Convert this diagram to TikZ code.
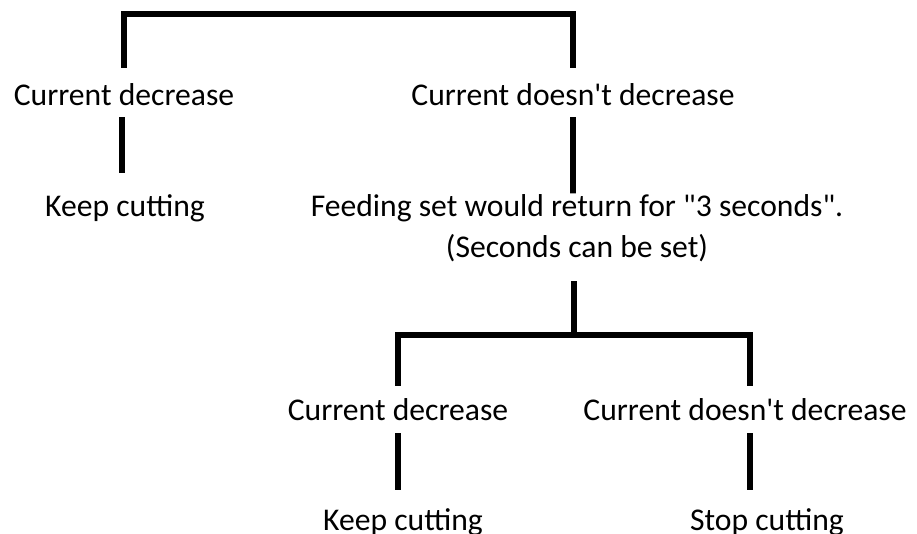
\documentclass[tikz,border=0pt]{standalone}
\usepackage{fontspec}
\setmainfont{Carlito}[Ligatures=TeXOff]
\usepackage{tikz}

\begin{document}
\begin{tikzpicture}[
        txt/.style={font=\fontsize{9pt}{11.7pt}\selectfont, inner sep=0pt, align=center},
        branch/.style={line width=1.6pt, line cap=rect}
    ]
        % Frame of the picture
        \useasboundingbox (0,0) rectangle (9.17,5.33);

        % First answer: does the current drop?
        \node[txt] (cd1) at (1.24,4.38) {Current decrease};
        \node[txt] (cnd1) at (5.73,4.38) {Current doesn't decrease};
        \node[txt] (kc1) at (1.25,3.25) {Keep cutting};
        \node[txt] (feed) at (5.77,3.045) {Feeding set would return for "3 seconds".\\(Seconds can be set)};

        % Second answer after the feeding set returns
        \node[txt] (cd2) at (3.98,1.23) {Current decrease};
        \node[txt] (cnd2) at (7.45,1.23) {Current doesn't decrease};
        \node[txt] (kc2) at (4.03,0.11) {Keep cutting};
        \node[txt] (sc2) at (7.67,0.11) {Stop cutting};

        % Bars of the two forks
        \coordinate (bar1) at (3.47,5.19);
        \coordinate (bar2) at (5.74,1.98);

        % Top fork
        \draw[branch] ([yshift=0.30cm]cd1.center) |- (bar1) -| ([yshift=0.30cm]cnd1.center);
        \draw[branch] ([xshift=-0.02cm,yshift=-0.25cm]cd1.center) -- ([xshift=-0.03cm,yshift=0.38cm]kc1.center);
        \draw[branch] ([yshift=-0.25cm]cnd1.center) -- ([xshift=-0.04cm,yshift=0.38cm]feed.center);

        % Lower fork
        \draw[branch] ([xshift=-0.03cm,yshift=-0.555cm]feed.center) -- (bar2);
        \draw[branch] ([yshift=0.27cm]cd2.center) |- (bar2) -| ([xshift=0.05cm,yshift=0.27cm]cnd2.center);
        \draw[branch] ([yshift=-0.26cm]cd2.center) -- ([xshift=-0.05cm,yshift=0.35cm]kc2.center);
        \draw[branch] ([xshift=0.05cm,yshift=-0.26cm]cnd2.center) -- ([xshift=-0.17cm,yshift=0.35cm]sc2.center);
    \end{tikzpicture}
\end{document}
